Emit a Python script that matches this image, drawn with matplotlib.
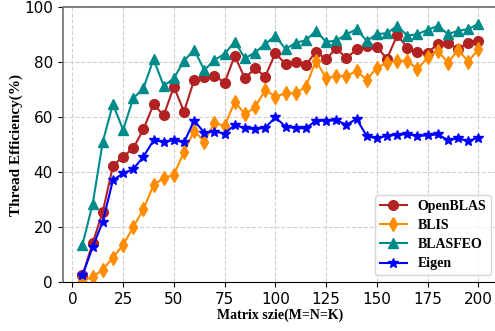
import matplotlib
matplotlib.use("Agg")
import matplotlib.pyplot as plt

# matrix sizes M=N=K
sizes = list(range(5, 205, 5))

openblas = [2.5, 14.3, 25.6, 42.3, 45.6, 48.7, 55.5, 64.6, 60.6, 71.0,
            61.9, 73.5, 74.7, 74.9, 72.5, 82.2, 74.0, 77.7, 74.7, 83.2,
            79.2, 80.0, 78.9, 83.7, 81.0, 85.0, 81.3, 84.6, 85.6, 85.3,
            81.2, 89.7, 85.2, 83.6, 83.4, 86.4, 86.8, 84.6, 87.0, 87.6]
blis = [0.5, 1.9, 4.6, 9.0, 13.5, 20.1, 26.5, 35.3, 37.9, 39.0,
        47.4, 55.0, 51.0, 57.9, 56.7, 65.6, 61.0, 63.5, 69.8, 67.4,
        68.6, 68.6, 71.0, 80.5, 74.0, 74.9, 74.9, 76.7, 73.5, 77.9,
        79.7, 80.4, 80.4, 77.3, 81.7, 84.0, 79.7, 84.4, 80.1, 84.6]
blasfeo = [13.7, 28.4, 51.0, 64.7, 55.3, 66.8, 70.4, 81.0, 71.3, 74.0,
           80.4, 84.4, 77.0, 80.7, 82.9, 87.4, 81.3, 83.4, 86.5, 89.5,
           84.6, 87.0, 87.8, 91.3, 87.2, 87.8, 90.0, 91.9, 87.6, 90.1,
           90.4, 93.1, 89.5, 90.1, 91.6, 93.1, 90.1, 91.3, 91.9, 93.8]
eigen = [2.5, 12.8, 22.0, 37.1, 39.5, 41.1, 45.6, 51.5, 51.0, 51.6,
         50.8, 58.7, 54.3, 54.7, 54.0, 57.1, 55.9, 55.6, 56.1, 59.9,
         56.5, 55.9, 55.9, 58.7, 58.6, 58.8, 57.2, 59.3, 53.1, 52.2,
         53.2, 53.5, 53.8, 53.1, 53.3, 53.7, 51.6, 52.2, 51.3, 52.5]

series = [
    ("OpenBLAS", openblas, "#b22222", "o"),
    ("BLIS", blis, "darkorange", "d"),
    ("BLASFEO", blasfeo, "#008b8b", "^"),
    ("Eigen", eigen, "blue", "*"),
]

fig = plt.figure(figsize=(4.95, 3.31), dpi=100)
ax = fig.add_axes([62.7 / 495, 1 - 282.3 / 331, 435.5 / 495, 275.5 / 331])

for name, vals, color, mk in series:
    ax.plot(sizes, vals, color=color, marker=mk, markersize=7,
            linewidth=1.5, label=name)

ax.set_xlim(-4.75, 209.75)
ax.set_ylim(0, 100)
ax.set_xticks(range(0, 201, 25))
ax.set_yticks(range(0, 101, 20))
ax.tick_params(labelsize=11)
ax.grid(True, linestyle="--", color="#d0d0d0", linewidth=0.8)

ax.spines["left"].set_color("#777777")
ax.spines["top"].set_color("#777777")
ax.spines["left"].set_linewidth(1.3)
ax.spines["top"].set_linewidth(1.3)

ax.set_xlabel("Matrix szie(M=N=K)", family="Liberation Serif",
              weight="bold", size=10, labelpad=1)
ax.set_ylabel("Thread Efficiency(%)", family="Liberation Serif",
              weight="bold", size=11, labelpad=1)

ax.legend(loc="lower right", prop={"family": "Liberation Serif",
                                   "weight": "bold", "size": 10},
          handlelength=1.9, borderpad=0.35, labelspacing=0.45)

fig.savefig("out.png", dpi=100)
